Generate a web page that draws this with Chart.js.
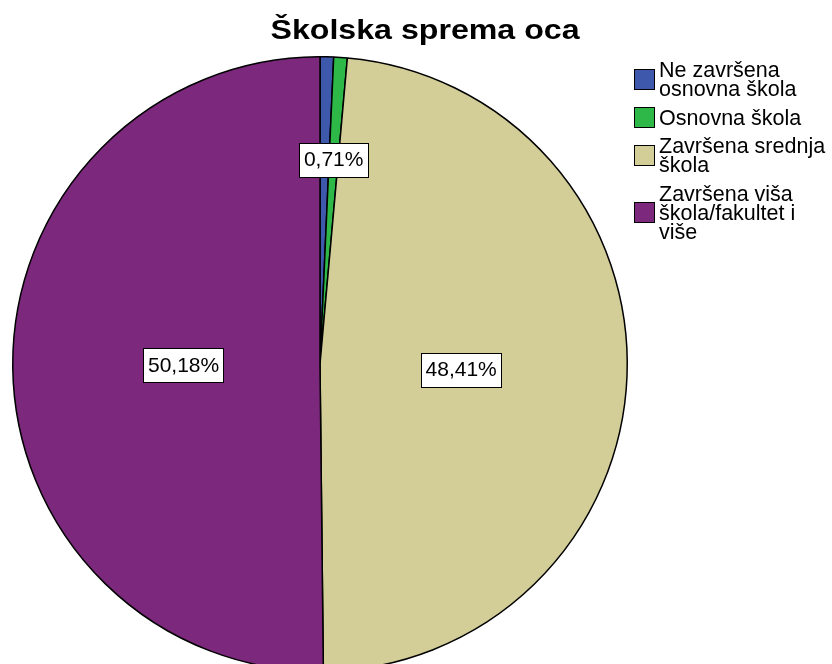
<!DOCTYPE html>
<html>
<head>
<meta charset="UTF-8">
<script src="https://cdn.jsdelivr.net/npm/chart.js"></script>
<style>
  html, body { margin: 0; padding: 0; background: #fff; overflow: hidden; }
  #wrap { position: relative; width: 832px; height: 680px; }
</style>
</head>
<body>
<div id="wrap"><canvas id="chart"></canvas></div>
<script>
// data
const chartTitle = 'Školska sprema oca';
const categories = [
  'Ne završena osnovna škola',
  'Osnovna škola',
  'Završena srednja škola',
  'Završena viša škola/fakultet i više'
];
const percents = [0.71, 0.71, 48.41, 50.18];
const colors = ['#3E58AC', '#2EB848', '#D3CE97', '#7C287D'];
// the two small slices overlap, only one label is shown
const showLabel = [false, true, true, true];

const fmt = v => v.toFixed(2).replace('.', ',') + '%';

function wrapText(ctx, text, maxW) {
  const words = text.split(' ');
  const lines = [];
  let cur = '';
  for (const w of words) {
    const t = cur ? cur + ' ' + w : w;
    if (ctx.measureText(t).width > maxW && cur) {
      lines.push(cur);
      cur = w;
    } else {
      cur = t;
    }
  }
  if (cur) lines.push(cur);
  return lines;
}

const decorPlugin = {
  id: 'decor',
  afterDatasetsDraw(chart) {
    const ctx = chart.ctx;
    const meta = chart.getDatasetMeta(0);

    // slice labels at sector centroid
    ctx.save();
    ctx.font = '21px "Liberation Sans", Arial, sans-serif';
    ctx.textAlign = 'center';
    ctx.textBaseline = 'middle';
    meta.data.forEach((arc, i) => {
      if (!showLabel[i]) return;
      const { x, y, startAngle, endAngle, outerRadius } = arc.getProps(['x', 'y', 'startAngle', 'endAngle', 'outerRadius'], true);
      const a = (endAngle - startAngle) / 2;
      const mid = startAngle + a;
      const r = outerRadius * 2 * Math.sin(a) / (3 * a) * (a > 1 ? 1.05 : 1);
      const lx = x + Math.cos(mid) * r;
      const ly = y + Math.sin(mid) * r;
      const txt = fmt(percents[i]);
      const w = ctx.measureText(txt).width + 9;
      const h = 34;
      ctx.fillStyle = '#fff';
      ctx.fillRect(Math.round(lx - w / 2) + 0.5, Math.round(ly - h / 2) + 0.5, Math.round(w), h);
      ctx.strokeStyle = '#000';
      ctx.lineWidth = 1;
      ctx.strokeRect(Math.round(lx - w / 2) + 0.5, Math.round(ly - h / 2) + 0.5, Math.round(w), h);
      ctx.fillStyle = '#000';
      ctx.fillText(txt, lx, ly + 1);
    });
    ctx.restore();

    // title
    ctx.save();
    ctx.font = 'bold 27px "Liberation Sans", Arial, sans-serif';
    ctx.textAlign = 'center';
    ctx.textBaseline = 'alphabetic';
    ctx.fillStyle = '#000';
    const tw = ctx.measureText(chartTitle).width;
    const sx = 309 / tw;
    ctx.translate(425, 39);
    ctx.scale(sx, 1);
    ctx.fillText(chartTitle, 0, 0);
    ctx.restore();

    // legend
    ctx.save();
    ctx.font = '21.5px "Liberation Sans", Arial, sans-serif';
    ctx.textAlign = 'left';
    ctx.textBaseline = 'middle';
    const lineH = 19, gap = 9.5, boxX = 634, box = 20, textX = 659;
    let top = 60;
    categories.forEach((c, i) => {
      const lines = wrapText(ctx, c, 832 - textX);
      const hh = lines.length * lineH;
      const cy = top + hh / 2;
      ctx.fillStyle = colors[i];
      ctx.fillRect(boxX + 0.5, Math.round(cy - box / 2) + 0.5, box, box);
      ctx.strokeStyle = '#000';
      ctx.lineWidth = 1;
      ctx.strokeRect(boxX + 0.5, Math.round(cy - box / 2) + 0.5, box, box);
      ctx.fillStyle = '#000';
      lines.forEach((ln, j) => {
        ctx.fillText(ln, textX, top + lineH * j + lineH / 2 + 2);
      });
      top += hh + gap;
    });
    ctx.restore();
  }
};

new Chart(document.getElementById('chart'), {
  type: 'pie',
  data: {
    labels: categories,
    datasets: [{
      data: percents,
      backgroundColor: colors,
      borderColor: '#000',
      borderWidth: 1.5
    }]
  },
  options: {
    responsive: true,
    maintainAspectRatio: false,
    animation: false,
    layout: { padding: { left: 12, right: 204, top: 56, bottom: 8 } },
    plugins: {
      legend: { display: false },
      title: { display: false },
      tooltip: { enabled: false }
    }
  },
  plugins: [decorPlugin]
});
</script>
</body>
</html>
